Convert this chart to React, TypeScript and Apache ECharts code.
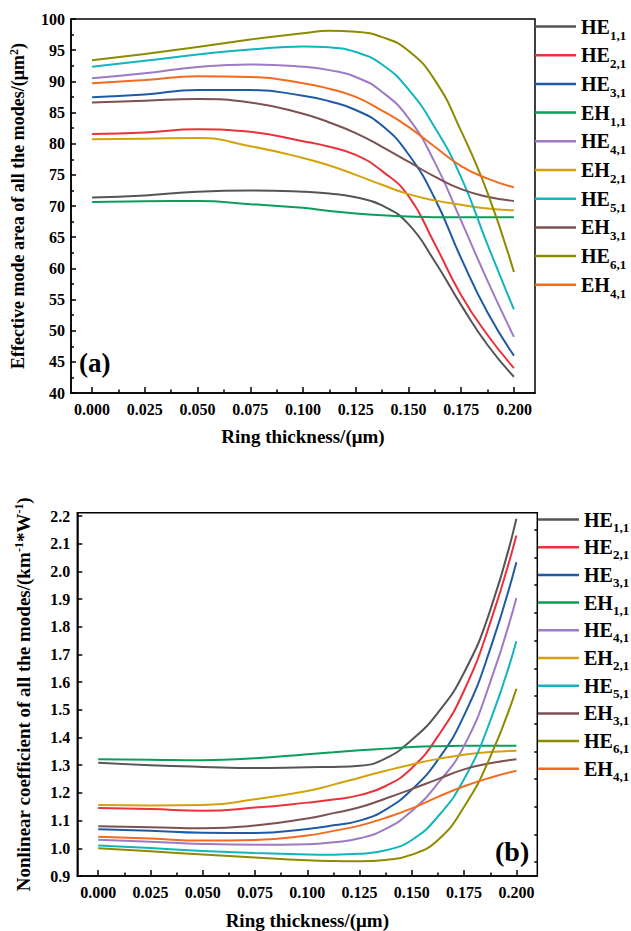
import React, { useEffect, useRef } from 'react';
import * as echarts from 'echarts';

const FONT = "'Liberation Serif', 'Times New Roman', serif";

// Ring thickness (μm) sample points
const xs = [0, 0.025, 0.05, 0.075, 0.1, 0.1125, 0.125, 0.1375, 0.15, 0.1625, 0.175, 0.1875, 0.2];
const xTickValues = [0, 0.025, 0.05, 0.075, 0.1, 0.125, 0.15, 0.175, 0.2];
const xMinorValues = [0.0125, 0.0375, 0.0625, 0.0875, 0.1125, 0.1375, 0.1625, 0.1875];
const yBottomLabels = [0.9, 1.0, 1.1, 1.2, 1.3, 1.4, 1.5, 1.6, 1.7, 1.8, 1.9, 2.0, 2.1, 2.2];
const yBottomMinor = [0.95, 1.05, 1.15, 1.25, 1.35, 1.45, 1.55, 1.65, 1.75, 1.85, 1.95, 2.05, 2.15];

const modeNames = ['HE1,1', 'HE2,1', 'HE3,1', 'EH1,1', 'HE4,1', 'EH2,1', 'HE5,1', 'EH3,1', 'HE6,1', 'EH4,1'];
const colors = ['#555555', '#E8323C', '#1F5AA6', '#0A9E5A', '#9D7BC4', '#D4A20A', '#12B5BD', '#7B5151', '#8C8B00', '#F26B21'];

// (a) Effective mode area (μm²)
const areaHE11 = [71.35, 71.7, 72.3, 72.5, 72.3, 72.0, 71.4, 70.1, 67.1, 61.1, 54.1, 47.7, 42.6];
const areaHE21 = [81.55, 81.8, 82.3, 81.9, 80.4, 79.5, 78.2, 75.6, 71.6, 63.9, 55.7, 49.3, 44.0];
const areaHE31 = [87.45, 87.9, 88.6, 88.6, 87.7, 86.8, 85.4, 82.9, 78.3, 71.2, 61.6, 52.9, 46.0];
const areaEH11 = [70.65, 70.75, 70.8, 70.3, 69.7, 69.2, 68.8, 68.5, 68.3, 68.2, 68.2, 68.2, 68.2];
const areaHE41 = [90.5, 91.3, 92.3, 92.7, 92.35, 91.8, 90.7, 88.3, 84.1, 77.0, 67.6, 58.0, 49.0];
const areaEH21 = [80.7, 80.8, 80.9, 79.6, 77.7, 76.5, 75.0, 73.4, 71.9, 70.9, 70.2, 69.6, 69.3];
const areaHE51 = [92.35, 93.3, 94.3, 95.1, 95.6, 95.45, 94.7, 92.7, 88.7, 82.6, 74.6, 63.8, 53.4];
const areaEH31 = [86.6, 86.9, 87.15, 86.6, 84.8, 83.4, 81.7, 79.5, 77.1, 74.7, 72.7, 71.5, 70.8];
const areaHE61 = [93.4, 94.4, 95.5, 96.7, 97.7, 98.1, 97.95, 97.1, 94.9, 90.2, 82.0, 72.1, 59.4];
const areaEH41 = [89.7, 90.2, 90.8, 90.7, 89.7, 88.8, 87.5, 85.3, 82.7, 79.5, 76.4, 74.4, 73.0];

// (b) Nonlinear coefficient (km^-1 W^-1)
const gammaHE11 = [1.309, 1.300, 1.294, 1.290, 1.293, 1.294, 1.298, 1.325, 1.392, 1.49, 1.635, 1.86, 2.19];
const gammaHE21 = [1.146, 1.142, 1.136, 1.147, 1.165, 1.176, 1.192, 1.225, 1.29, 1.405, 1.57, 1.815, 2.13];
const gammaHE31 = [1.069, 1.063, 1.056, 1.055, 1.07, 1.083, 1.10, 1.14, 1.212, 1.32, 1.48, 1.72, 2.033];
const gammaEH11 = [1.322, 1.320, 1.318, 1.325, 1.340, 1.347, 1.354, 1.36, 1.366, 1.369, 1.370, 1.370, 1.370];
const gammaHE41 = [1.031, 1.024, 1.016, 1.013, 1.015, 1.022, 1.036, 1.07, 1.135, 1.235, 1.37, 1.60, 1.904];
const gammaEH21 = [1.156, 1.155, 1.156, 1.177, 1.207, 1.23, 1.255, 1.28, 1.303, 1.323, 1.338, 1.348, 1.352];
const gammaHE51 = [1.010, 1.001, 0.990, 0.983, 0.978, 0.977, 0.980, 0.993, 1.03, 1.115, 1.25, 1.46, 1.748];
const gammaEH31 = [1.080, 1.076, 1.072, 1.082, 1.108, 1.127, 1.148, 1.18, 1.214, 1.25, 1.285, 1.307, 1.322];
const gammaHE61 = [1.000, 0.989, 0.978, 0.967, 0.957, 0.954, 0.953, 0.958, 0.977, 1.03, 1.15, 1.33, 1.576];
const gammaEH41 = [1.042, 1.035, 1.028, 1.030, 1.046, 1.063, 1.082, 1.11, 1.144, 1.186, 1.224, 1.255, 1.28];

const areaSeries = [areaHE11, areaHE21, areaHE31, areaEH11, areaHE41, areaEH21, areaHE51, areaEH31, areaHE61, areaEH41];
const gammaSeries = [gammaHE11, gammaHE21, gammaHE31, gammaEH11, gammaHE41, gammaEH21, gammaHE51, gammaEH31, gammaHE61, gammaEH41];

const black = '#000';
const labelFont = { fontFamily: FONT, fontWeight: 'bold' as const, color: black, fontSize: 16 };

function makeXAxes(gridIndex: number, nameGap: number) {
  return [
    {
      type: 'value', gridIndex, min: -0.01, max: 0.21, position: 'bottom',
      axisLine: { show: true, onZero: false, lineStyle: { color: black, width: 1.5 } },
      axisTick: { show: true, inside: true, length: 6, customValues: xTickValues, lineStyle: { color: black, width: 1.5 } },
      axisLabel: { show: true, customValues: xTickValues, formatter: (v: number) => v.toFixed(3), margin: 8, ...labelFont },
      splitLine: { show: false },
      name: 'Ring thickness/(μm)', nameLocation: 'middle', nameGap,
      nameTextStyle: { fontFamily: FONT, fontWeight: 'bold', color: black, fontSize: 19 },
    },
    {
      type: 'value', gridIndex, min: -0.01, max: 0.21, position: 'bottom',
      axisLine: { show: false, onZero: false },
      axisTick: { show: true, inside: true, length: 3.5, customValues: xMinorValues, lineStyle: { color: black, width: 1.5 } },
      axisLabel: { show: false },
      splitLine: { show: false },
    },
  ];
}

function legendFormatter(name: string) {
  const m = name.match(/^([A-Z]+)(.*)$/);
  if (!m) return name;
  return `{m|${m[1]}}{s|${m[2]}}`;
}

function makeLegend(left: number, top: number, lh: number, gap: number) {
  return {
    orient: 'vertical', left, top, padding: 0, itemGap: gap, itemWidth: 41, itemHeight: 2.5,
    icon: 'rect',
    selectedMode: false, data: modeNames, formatter: legendFormatter,
    textStyle: {
      rich: {
        m: { fontFamily: FONT, fontWeight: 'bold', fontSize: 20, color: black, lineHeight: lh, verticalAlign: 'middle' },
        s: { fontFamily: FONT, fontWeight: 'bold', fontSize: 13, color: black, lineHeight: 13, verticalAlign: 'bottom' },
      },
    },
  };
}

function yNameStyle(size: number) {
  return {
    fontFamily: FONT, fontWeight: 'bold', color: black, fontSize: size, lineHeight: 20,
    rich: { sup: { fontFamily: FONT, fontWeight: 'bold', fontSize: 12, color: black, lineHeight: 12, verticalAlign: 'top' } },
  };
}

export default function App() {
  const ref = useRef<HTMLDivElement>(null);
  useEffect(() => {
    if (!ref.current) return;
    const chart = echarts.init(ref.current, undefined, { renderer: 'svg' });

    const series: any[] = [];
    modeNames.forEach((n, i) => {
      series.push({
        type: 'line', name: n, xAxisIndex: 0, yAxisIndex: 0,
        data: xs.map((x, j) => [x, areaSeries[i][j]]),
        symbol: 'none', showSymbol: false, smooth: 0.5,
        color: colors[i], lineStyle: { width: 2, color: colors[i] },
      });
    });
    modeNames.forEach((n, i) => {
      series.push({
        type: 'line', name: n, xAxisIndex: 2, yAxisIndex: 1,
        data: xs.map((x, j) => [x, gammaSeries[i][j]]),
        symbol: 'none', showSymbol: false, smooth: 0.5,
        color: colors[i], lineStyle: { width: 2, color: colors[i] },
      });
    });

    chart.setOption({
      animation: false,
      backgroundColor: '#fff',
      grid: [
        { left: 70, top: 19, width: 465, height: 374, show: true, borderColor: black, borderWidth: 1.5, containLabel: false },
        { left: 77.3, top: 512.7, width: 460, height: 364.6, show: true, borderColor: black, borderWidth: 1.5, containLabel: false },
      ],
      xAxis: [...makeXAxes(0, 34), ...makeXAxes(1, 35)],
      yAxis: [
        {
          type: 'value', gridIndex: 0, min: 40, max: 100, interval: 5,
          axisLine: { show: true, onZero: false, lineStyle: { color: black, width: 1.5 } },
          axisTick: { show: true, inside: true, length: 5, lineStyle: { color: black, width: 1.5 } },
          minorTick: { show: true, splitNumber: 2, length: 3, lineStyle: { color: black, width: 1.5 } },
          axisLabel: { margin: 6, ...labelFont },
          splitLine: { show: false }, minorSplitLine: { show: false },
          name: 'Effective mode area of all the modes/(μm{sup|2})',
          nameLocation: 'middle', nameGap: 43,
          nameTextStyle: yNameStyle(18),
        },
        {
          type: 'value', gridIndex: 1, min: 0.9, max: 2.212,
          axisLine: { show: true, onZero: false, lineStyle: { color: black, width: 1.5 } },
          axisTick: { show: true, inside: true, length: 5, customValues: yBottomLabels, lineStyle: { color: black, width: 1.5 } },
          axisLabel: { margin: 7, customValues: yBottomLabels, formatter: (v: number) => v.toFixed(1), ...labelFont },
          splitLine: { show: false },
          name: 'Nonlinear coefficient of all the modes/(km{sup|-1}*W{sup|-1})',
          nameLocation: 'middle', nameGap: 44,
          nameTextStyle: yNameStyle(19),
        },
        {
          type: 'value', gridIndex: 1, min: 0.9, max: 2.212,
          axisLine: { show: false, onZero: false },
          axisTick: { show: true, inside: true, length: 3, customValues: yBottomMinor, lineStyle: { color: black, width: 1.5 } },
          axisLabel: { show: false },
          splitLine: { show: false },
        },
      ],
      legend: [makeLegend(535, 16.5, 30, 3.7), makeLegend(538, 509.5, 28, 3.7)],
      graphic: [
        { type: 'text', left: 79, top: 349, style: { text: '(a)', font: `bold 27px ${FONT}`, fill: black } },
        { type: 'text', left: 495, top: 837, style: { text: '(b)', font: `bold 28px ${FONT}`, fill: black } },
      ],
      series,
    });
    return () => chart.dispose();
  }, []);
  return <div ref={ref} style={{ position: 'fixed', left: 0, top: 0, width: 631, height: 931 }} />;
}
